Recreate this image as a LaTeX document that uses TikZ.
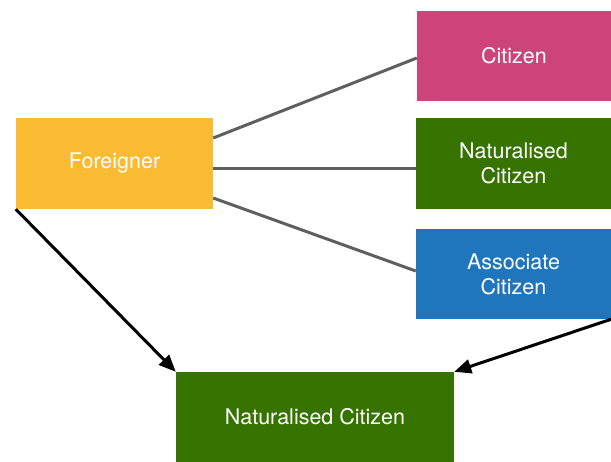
\documentclass[tikz,border=0pt]{standalone}
\usepackage{fontspec}
\setmainfont{TeX Gyre Heros}
\usetikzlibrary{arrows.meta}

\definecolor{foreignyellow}{HTML}{F8BB32}
\definecolor{citizenpink}{HTML}{CC4479}
\definecolor{natgreen}{HTML}{367300}
\definecolor{assocblue}{HTML}{2076BC}
\definecolor{linkgray}{HTML}{5F5F5F}

\begin{document}
\begin{tikzpicture}[x=1pt, y=-1pt,
  box/.style={rectangle, inner sep=0pt, text=white, align=center,
    font=\fontsize{21.5}{25}\selectfont},
  link/.style={draw=linkgray, line width=3pt},
  arrowlink/.style={draw=black, line width=3pt, -{Triangle[length=17pt,width=14pt]}}]

\useasboundingbox (0,0) rectangle (611,462);

% Define boxes
\node[box, fill=foreignyellow, minimum width=197pt, minimum height=91pt] (fr) at (114.5,163.5) {Foreigner};
\node[box, fill=citizenpink, minimum width=194pt, minimum height=90pt] (cit) at (514,56) {Citizen};
\node[box, fill=natgreen, minimum width=195pt, minimum height=91pt] (nat) at (513.5,163.5) {Naturalised\\Citizen};
\node[box, fill=assocblue, minimum width=195pt, minimum height=90pt] (asc) at (513.5,274) {Associate\\Citizen};
\node[box, fill=natgreen, minimum width=278pt, minimum height=90pt] (bot) at (315,417) {Naturalised Citizen};

% Draw lines from foreigner to citizen types
\draw[link] ([yshift=25.5pt]fr.east) -- ([yshift=-2pt]cit.west);
\draw[link] ([yshift=-5.5pt]fr.east) -- ([yshift=-5.5pt]nat.west);
\draw[link] ([yshift=-34.5pt]fr.east) -- ([yshift=3pt]asc.west);

% Add arrows into naturalised citizen
\draw[arrowlink] (fr.south west) -- (bot.north west);
\draw[arrowlink] (asc.south east) -- (bot.north east);
\end{tikzpicture}
\end{document}
